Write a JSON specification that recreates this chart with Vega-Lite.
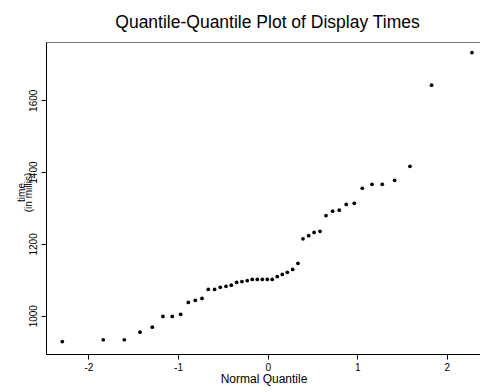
{
  "$schema": "https://vega.github.io/schema/vega-lite/v6.json",
  "autosize": {"type": "none"},
  "padding": {"left": 46, "top": 42, "right": 0, "bottom": 38},
  "width": 435,
  "height": 312,
  "background": "white",
  "title": {"text": "Quantile-Quantile Plot of Display Times", "font": "Liberation Sans", "fontSize": 17.5, "fontWeight": "normal", "color": "#000", "anchor": "middle", "frame": "group", "offset": 11, "dx": 4},
  "config": {
    "view": {"stroke": "#777", "strokeWidth": 1},
    "axis": {"grid": false, "domainColor": "#000", "tickColor": "#000", "labelColor": "#000", "titleColor": "#000", "labelFont": "Liberation Sans", "titleFont": "Liberation Sans", "labelFontSize": 10, "titleFontSize": 11, "titleFontWeight": "normal", "tickSize": 5, "labelExpr": "datum.value + ''"}
  },
  "data": {"values": [
    {"q": -2.292, "time": 928}, {"q": -1.835, "time": 933}, {"q": -1.600, "time": 933},
    {"q": -1.425, "time": 954}, {"q": -1.288, "time": 968}, {"q": -1.169, "time": 998},
    {"q": -1.065, "time": 998}, {"q": -0.971, "time": 1004}, {"q": -0.886, "time": 1037},
    {"q": -0.808, "time": 1043}, {"q": -0.733, "time": 1048}, {"q": -0.663, "time": 1073},
    {"q": -0.592, "time": 1073}, {"q": -0.529, "time": 1079}, {"q": -0.465, "time": 1082},
    {"q": -0.406, "time": 1085}, {"q": -0.346, "time": 1093}, {"q": -0.287, "time": 1095},
    {"q": -0.228, "time": 1098}, {"q": -0.172, "time": 1101}, {"q": -0.116, "time": 1101},
    {"q": -0.060, "time": 1101}, {"q": -0.004, "time": 1101}, {"q": 0.051, "time": 1101},
    {"q": 0.107, "time": 1109}, {"q": 0.163, "time": 1115}, {"q": 0.219, "time": 1121},
    {"q": 0.279, "time": 1129}, {"q": 0.338, "time": 1146}, {"q": 0.394, "time": 1214},
    {"q": 0.458, "time": 1223}, {"q": 0.518, "time": 1232}, {"q": 0.584, "time": 1235},
    {"q": 0.651, "time": 1279}, {"q": 0.725, "time": 1291}, {"q": 0.799, "time": 1294},
    {"q": 0.877, "time": 1310}, {"q": 0.967, "time": 1313}, {"q": 1.056, "time": 1355},
    {"q": 1.164, "time": 1366}, {"q": 1.279, "time": 1366}, {"q": 1.417, "time": 1377},
    {"q": 1.588, "time": 1416}, {"q": 1.830, "time": 1642}, {"q": 2.280, "time": 1733}
  ]},
  "mark": {"type": "circle", "color": "#000", "opacity": 1, "size": 14},
  "encoding": {
    "x": {"field": "q", "type": "quantitative", "scale": {"domain": [-2.474, 2.381], "nice": false, "zero": false},
      "axis": {"title": "Normal Quantile", "titleFontSize": 12, "values": [-2, -1, 0, 1, 2], "labelPadding": 3, "titlePadding": 1}},
    "y": {"field": "time", "type": "quantitative", "scale": {"domain": [893.3, 1762.4], "nice": false, "zero": false},
      "axis": {"title": ["time", "(in millis)"], "values": [1000, 1200, 1400, 1600], "labelAngle": -90, "labelAlign": "center", "labelBaseline": "bottom", "labelPadding": 3, "titleFontSize": 10, "titleAngle": -90, "titleX": -25, "titleY": 150, "titleAlign": "center", "titleBaseline": "middle", "titleLineHeight": 7}}
  }
}
